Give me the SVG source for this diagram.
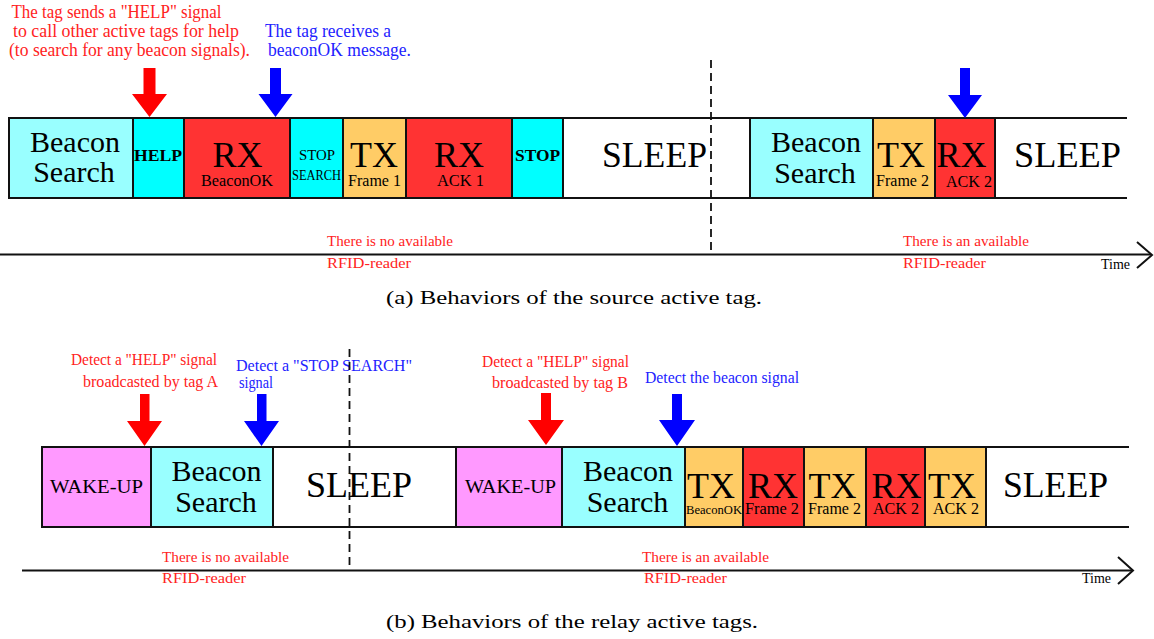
<svg xmlns="http://www.w3.org/2000/svg" width="1154" height="639" viewBox="0 0 1154 639">
<style>
text{font-family:"Liberation Serif","Times New Roman",serif;fill:#000}
.big{font-size:36px;text-anchor:middle}
.bs{font-size:30px;text-anchor:middle}
.sm{font-size:16px;text-anchor:middle}
.md{font-size:18px;text-anchor:middle}
.bd{font-size:17px;font-weight:bold;text-anchor:middle}
.red{fill:#ff2222}
.blue{fill:#2222ff}
.ann{font-size:18px}
.ann2{font-size:16px}
.ax{font-size:15.5px}
.cap{font-size:19px}
.box{stroke:#111;stroke-width:2}
.lbs{fill:#99ffff}.cy{fill:#00ffff}.rx{fill:#ff3333}.tx{fill:#ffcc66}.wk{fill:#ff99ff}.sl{fill:#fff}
.edge{stroke:#111;stroke-width:2;fill:none}
.dash{stroke:#111;stroke-width:1.8;stroke-dasharray:8 5;fill:none}
.ra{fill:#ff0000}.ba{fill:#0000ff}
</style>

<!-- top annotations -->
<g id="note-help">
<text class="red ann" x="11.5" y="18" textLength="210" lengthAdjust="spacingAndGlyphs">The tag sends a "HELP" signal</text>
<text class="red ann" x="13" y="37" textLength="226" lengthAdjust="spacingAndGlyphs">to call other active tags for help</text>
<text class="red ann" x="9" y="56" textLength="241" lengthAdjust="spacingAndGlyphs">(to search for any beacon signals).</text>
</g>
<g id="note-beaconok">
<text class="blue ann" x="265" y="37" textLength="126" lengthAdjust="spacingAndGlyphs">The tag receives a</text>
<text class="blue ann" x="268" y="56" textLength="143" lengthAdjust="spacingAndGlyphs">beaconOK message.</text>
</g>

<!-- top bar -->
<g id="a-sleep1"><rect class="sl" x="563" y="118" width="187" height="80"/><text class="big" x="654.5" y="167" textLength="105" lengthAdjust="spacingAndGlyphs">SLEEP</text></g>
<g id="a-sleep2"><rect class="sl" x="995" y="118" width="132" height="80"/><text class="big" x="1067.5" y="167" textLength="107" lengthAdjust="spacingAndGlyphs">SLEEP</text></g>
<g id="a-bs1"><rect class="box lbs" x="9" y="118" width="124" height="80"/><text class="bs" x="75" y="152">Beacon</text><text class="bs" x="74" y="182">Search</text></g>
<g id="a-help"><rect class="box cy" x="133" y="118" width="51" height="80"/><text class="bd" x="158" y="161" textLength="48" lengthAdjust="spacingAndGlyphs">HELP</text></g>
<g id="a-rx1"><rect class="box rx" x="184" y="118" width="106" height="80"/><text class="big" x="237.5" y="167">RX</text><text class="sm" x="237" y="186" textLength="72" lengthAdjust="spacingAndGlyphs">BeaconOK</text></g>
<g id="a-stopsearch"><rect class="box cy" x="290" y="118" width="53" height="80"/><text class="sm" x="317" y="160" style="font-size:15px" textLength="36" lengthAdjust="spacingAndGlyphs">STOP</text><text class="sm" x="316.5" y="180" style="font-size:14.5px" textLength="49" lengthAdjust="spacingAndGlyphs">SEARCH</text></g>
<g id="a-tx1"><rect class="box tx" x="343" y="118" width="63" height="80"/><text class="big" x="374" y="167">TX</text><text class="sm" x="374.5" y="186" textLength="53" lengthAdjust="spacingAndGlyphs">Frame 1</text></g>
<g id="a-rx2"><rect class="box rx" x="406" y="118" width="106" height="80"/><text class="big" x="459" y="167">RX</text><text class="sm" x="460.5" y="186" textLength="47" lengthAdjust="spacingAndGlyphs">ACK 1</text></g>
<g id="a-stop"><rect class="box cy" x="512" y="118" width="51" height="80"/><text class="bd" x="537.5" y="161" textLength="45" lengthAdjust="spacingAndGlyphs">STOP</text></g>
<g id="a-bs2"><rect class="box lbs" x="750" y="118" width="123" height="80"/><text class="bs" x="816" y="152">Beacon</text><text class="bs" x="815" y="183">Search</text></g>
<g id="a-tx2"><rect class="box tx" x="873" y="118" width="62" height="80"/><text class="big" x="901" y="167">TX</text><text class="sm" x="902.5" y="186" textLength="53" lengthAdjust="spacingAndGlyphs">Frame 2</text></g>
<g id="a-rx3"><rect class="box rx" x="935" y="118" width="60" height="80"/><text class="big" x="961.5" y="167">RX</text><text class="sm" x="969" y="187" textLength="46" lengthAdjust="spacingAndGlyphs">ACK 2</text></g>

<!-- bottom annotations -->
<g id="note-help-a">
<text class="red ann2" x="71" y="365" textLength="146" lengthAdjust="spacingAndGlyphs">Detect a "HELP" signal</text>
<text class="red ann2" x="83" y="387" textLength="135" lengthAdjust="spacingAndGlyphs">broadcasted by tag A</text>
</g>
<g id="note-stopsearch">
<text class="blue ann2" x="236" y="371" textLength="176" lengthAdjust="spacingAndGlyphs">Detect a "STOP SEARCH"</text>
<text class="blue ann2" x="239" y="388" textLength="34" lengthAdjust="spacingAndGlyphs">signal</text>
</g>
<g id="note-help-b">
<text class="red ann2" x="482" y="367" textLength="147" lengthAdjust="spacingAndGlyphs">Detect a "HELP" signal</text>
<text class="red ann2" x="492" y="388" textLength="136" lengthAdjust="spacingAndGlyphs">broadcasted by tag B</text>
</g>
<g id="note-beacon">
<text class="blue ann2" x="645" y="383" textLength="154" lengthAdjust="spacingAndGlyphs">Detect the beacon signal</text>
</g>

<!-- bottom bar -->
<g id="b-sleep1"><rect class="sl" x="273" y="447" width="183" height="80"/><text class="big" x="359" y="497" textLength="106" lengthAdjust="spacingAndGlyphs">SLEEP</text></g>
<g id="b-sleep2"><rect class="sl" x="986" y="447" width="143" height="80"/><text class="big" x="1055.5" y="497" textLength="105" lengthAdjust="spacingAndGlyphs">SLEEP</text></g>
<g id="b-wake1"><rect class="box wk" x="42" y="447" width="109" height="80"/><text class="md" x="96.5" y="493" style="font-size:19px" textLength="93" lengthAdjust="spacingAndGlyphs">WAKE-UP</text></g>
<g id="b-bs1"><rect class="box lbs" x="151" y="447" width="122" height="80"/><text class="bs" x="216.5" y="481">Beacon</text><text class="bs" x="216" y="512">Search</text></g>
<g id="b-wake2"><rect class="box wk" x="456" y="447" width="106" height="80"/><text class="md" x="510.5" y="493" style="font-size:19px" textLength="91" lengthAdjust="spacingAndGlyphs">WAKE-UP</text></g>
<g id="b-bs2"><rect class="box lbs" x="562" y="447" width="123" height="80"/><text class="bs" x="628" y="481">Beacon</text><text class="bs" x="627.5" y="512">Search</text></g>
<g id="b-tx1"><rect class="box tx" x="685" y="447" width="58" height="80"/><text class="big" x="711" y="498">TX</text><text class="sm" x="714" y="514" style="font-size:13px" textLength="56" lengthAdjust="spacingAndGlyphs">BeaconOK</text></g>
<g id="b-rx1"><rect class="box rx" x="743" y="447" width="61" height="80"/><text class="big" x="773" y="498">RX</text><text class="sm" x="772" y="514" textLength="54" lengthAdjust="spacingAndGlyphs">Frame 2</text></g>
<g id="b-tx2"><rect class="box tx" x="804" y="447" width="62" height="80"/><text class="big" x="832.5" y="498">TX</text><text class="sm" x="834.5" y="514" textLength="53" lengthAdjust="spacingAndGlyphs">Frame 2</text></g>
<g id="b-rx2"><rect class="box rx" x="866" y="447" width="59" height="80"/><text class="big" x="896.5" y="498">RX</text><text class="sm" x="896" y="514" textLength="46" lengthAdjust="spacingAndGlyphs">ACK 2</text></g>
<g id="b-tx3"><rect class="box tx" x="925" y="447" width="61" height="80"/><text class="big" x="952" y="498">TX</text><text class="sm" x="956" y="514" textLength="46" lengthAdjust="spacingAndGlyphs">ACK 2</text></g>

<!-- connectors: bar edges, pointer arrows, time axes, separators -->
<g id="connectors">
<line class="edge" x1="8" y1="118" x2="1127" y2="118"/>
<line class="edge" x1="8" y1="198" x2="1127" y2="198"/>
<line class="edge" x1="41" y1="447" x2="1129" y2="447"/>
<line class="edge" x1="41" y1="527" x2="1129" y2="527"/>
<line class="dash" x1="711" y1="60" x2="711" y2="255"/>
<line class="dash" x1="349.5" y1="349" x2="349.5" y2="570"/>
<path class="ra" d="M143.5,68 H155.5 V94 H167 L149.5,117 L132,94 H143.5 Z"/>
<path class="ba" d="M270,68 H281 V94 H292.5 L275.5,117 L258.5,94 H270 Z"/>
<path class="ba" d="M960,68 H970 V95 H982 L965,118 L948,95 H960 Z"/>
<path class="ra" d="M140,394 H149.5 V421 H162 L144.5,446 L127,421 H140 Z"/>
<path class="ba" d="M257,394 H266.5 V421 H279 L261.5,446 L244,421 H257 Z"/>
<path class="ra" d="M541,393 H551 V420 H564 L546,445 L528,420 H541 Z"/>
<path class="ba" d="M672,394 H682 V420 H695 L677,446 L659,420 H672 Z"/>
<line class="edge" x1="0" y1="254.5" x2="1151" y2="254.5"/>
<polyline class="edge" points="1137,242 1152,255 1137,268"/>
<line class="edge" x1="22" y1="570.5" x2="1132" y2="570.5"/>
<polyline class="edge" points="1118,557 1133,570.5 1118,584"/>
</g>

<!-- axis labels -->
<g id="a-axis-labels">
<text class="red ax" x="327" y="246" textLength="126" lengthAdjust="spacingAndGlyphs">There is no available</text>
<text class="red ax" x="327" y="268" textLength="84" lengthAdjust="spacingAndGlyphs">RFID-reader</text>
<text class="red ax" x="903" y="246" textLength="126" lengthAdjust="spacingAndGlyphs">There is an available</text>
<text class="red ax" x="903" y="268" textLength="83" lengthAdjust="spacingAndGlyphs">RFID-reader</text>
<text style="font-size:14px" x="1101" y="269" textLength="29" lengthAdjust="spacingAndGlyphs">Time</text>
</g>
<g id="b-axis-labels">
<text class="red ax" x="162" y="562" textLength="127" lengthAdjust="spacingAndGlyphs">There is no available</text>
<text class="red ax" x="162" y="583" textLength="84" lengthAdjust="spacingAndGlyphs">RFID-reader</text>
<text class="red ax" x="642" y="562" textLength="127" lengthAdjust="spacingAndGlyphs">There is an available</text>
<text class="red ax" x="644" y="583" textLength="83" lengthAdjust="spacingAndGlyphs">RFID-reader</text>
<text style="font-size:14px" x="1082" y="583" textLength="29" lengthAdjust="spacingAndGlyphs">Time</text>
</g>

<g id="captions">
<text class="cap" x="386" y="304" textLength="376" lengthAdjust="spacingAndGlyphs">(a) Behaviors of the source active tag.</text>
<text class="cap" x="386" y="628" textLength="372" lengthAdjust="spacingAndGlyphs">(b) Behaviors of the relay active tags.</text>
</g>
</svg>
